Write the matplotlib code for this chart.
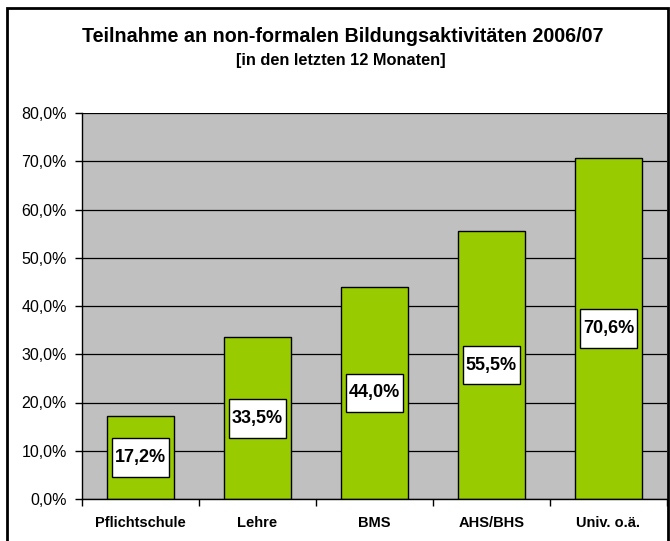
import matplotlib.pyplot as plt
import matplotlib.patches as mpatches
from matplotlib.path import Path
import numpy as np

plt.rcParams['font.family'] = ['Liberation Sans', 'DejaVu Sans']

# data
categories = ['Pflichtschule', 'Lehre', 'BMS', 'AHS/BHS', 'Univ. o.ä.']
values = [17.2, 33.5, 44.0, 55.5, 70.6]
title = 'Teilnahme an non-formalen Bildungsaktivitäten 2006/07'
subtitle = '[in den letzten 12 Monaten]'
yticks = [0, 10, 20, 30, 40, 50, 60, 70, 80]


def label_box(x0, y0, width, height, mutation_size):
    # square box, more padding vertically than horizontally (Excel style)
    px = 0.18 * mutation_size
    py = 0.6 * mutation_size
    x0, y0 = x0 - px, y0 - py
    x1, y1 = x0 + width + 2 * px, y0 + height + 2 * py
    return Path([(x0, y0), (x1, y0), (x1, y1), (x0, y1), (x0, y0)], closed=True)


fig = plt.figure(figsize=(6.7, 5.41), dpi=100)
ax = fig.add_axes([82 / 670, 1 - 499 / 541, 585 / 670, 386 / 541])
ax.set_facecolor('#c0c0c0')

x = np.arange(len(categories))
ax.bar(x, values, width=0.58, color='#99cc00', edgecolor='black', linewidth=1, zorder=3)

for xi, v in zip(x, values):
    ax.text(xi, v / 2, f'{v:.1f}%'.replace('.', ','), ha='center', va='center',
            fontsize=13, fontweight='bold', zorder=4,
            bbox=dict(boxstyle=label_box, facecolor='white', edgecolor='black', linewidth=1))

ax.set_xlim(-0.5, len(categories) - 0.5)
ax.set_ylim(0, 80)
ax.set_yticks(yticks)
ax.set_yticklabels([f'{t:.1f}%'.replace('.', ',') for t in yticks], fontsize=11.5)
ax.yaxis.grid(True, color='black', linewidth=0.9, zorder=1)
ax.set_axisbelow(True)

ax.set_xticks(x)
ax.set_xticklabels(categories, fontsize=10.5, fontweight='bold')
ax.set_xticks(np.arange(-0.5, len(categories)), minor=True)
ax.tick_params(axis='x', which='major', length=0, pad=12)
ax.tick_params(axis='x', which='minor', length=5, width=1, direction='out')
ax.tick_params(axis='y', length=5, width=1, direction='out', pad=6)

for s in ['top', 'right']:
    ax.spines[s].set_visible(False)
for s in ['left', 'bottom']:
    ax.spines[s].set_linewidth(1)
    ax.spines[s].set_zorder(5)

fig.text(343 / 670, 1 - 37 / 541, title, ha='center', va='center', fontsize=14.2, fontweight='bold')
fig.text(341 / 670, 1 - 60 / 541, subtitle, ha='center', va='center', fontsize=11.8, fontweight='bold')

# outer chart border
fig.add_artist(mpatches.Rectangle((7 / 670, -0.01), 661 / 670, 1.01 - 8 / 541,
                                  transform=fig.transFigure, fill=False,
                                  edgecolor='black', linewidth=2))

fig.savefig('out.png', dpi=100)
